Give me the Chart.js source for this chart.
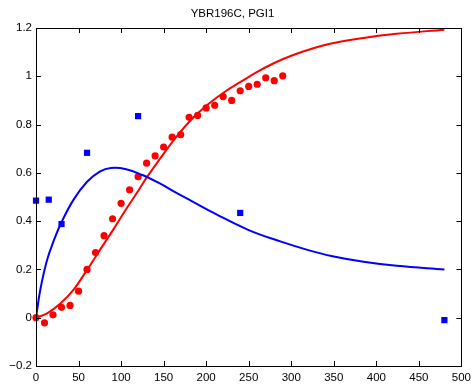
<!DOCTYPE html>
<html>
<head>
<meta charset="utf-8">
<script src="https://cdn.jsdelivr.net/npm/chart.js@4/dist/chart.umd.min.js"></script>
<style>
  html, body { margin: 0; padding: 0; background: #fff; }
  #wrap { width: 476px; height: 387px; }
</style>
</head>
<body>
<div id="wrap"><canvas id="grafico"></canvas></div>
<script>
// measured points
const redX = [0, 10, 20, 30, 40, 50, 60, 70, 80, 90, 100, 110, 120, 130, 140, 150, 160, 170, 180, 190, 200, 210, 220, 230, 240, 250, 260, 270, 280, 290];
const redY = [0, -0.021, 0.012, 0.043, 0.051, 0.11, 0.20, 0.27, 0.34, 0.41, 0.474, 0.53, 0.584, 0.64, 0.67, 0.707, 0.748, 0.758, 0.83, 0.838, 0.869, 0.88, 0.916, 0.90, 0.94, 0.958, 0.967, 0.994, 0.982, 1.002];
const blueX = [0, 15, 30, 60, 120, 240, 480];
const blueY = [0.485, 0.489, 0.388, 0.683, 0.835, 0.434, -0.01];

// fitted curves
const redFitX = [0, 13, 29, 44, 60, 75, 91, 106, 120, 129, 145, 164, 183, 203, 222, 242, 261, 280, 300, 325, 350, 385, 424, 480];
const redFitY = [0, 0.018, 0.06, 0.115, 0.198, 0.28, 0.366, 0.45, 0.525, 0.575, 0.655, 0.745, 0.822, 0.886, 0.936, 0.98, 1.02, 1.055, 1.085, 1.115, 1.138, 1.159, 1.176, 1.193];
const blueFitX = [0, 5, 13, 21, 29, 44, 60, 75, 88, 106, 125, 145, 164, 183, 211, 250, 288, 320, 347, 385, 424, 480];
const blueFitY = [0, 0.115, 0.239, 0.32, 0.388, 0.488, 0.563, 0.605, 0.62, 0.615, 0.591, 0.557, 0.519, 0.483, 0.43, 0.363, 0.315, 0.28, 0.256, 0.232, 0.215, 0.2];

const xTicks = [0, 50, 100, 150, 200, 250, 300, 350, 400, 450, 500];
const yTicks = [-0.2, 0, 0.2, 0.4, 0.6, 0.8, 1, 1.2];
const titulo = 'YBR196C, PGI1';

const pares = (xs, ys) => xs.map((x, i) => ({ x: x, y: ys[i] }));
const fonte = { family: "'Liberation Sans', Arial, sans-serif", size: 11.5 };

// caixa e marcas internas estilo matlab
const caixa = {
    id: 'caixa',
    afterDraw(chart) {
        const { ctx, chartArea: a, scales } = chart;
        ctx.save();
        ctx.strokeStyle = '#000';
        ctx.lineWidth = 1;
        ctx.beginPath();
        xTicks.forEach(v => {
            const px = Math.round(scales.x.getPixelForValue(v)) + 0.5;
            ctx.moveTo(px, a.bottom); ctx.lineTo(px, a.bottom - 5);
            ctx.moveTo(px, a.top); ctx.lineTo(px, a.top + 5);
        });
        yTicks.forEach(v => {
            const py = Math.round(scales.y.getPixelForValue(v)) + 0.5;
            ctx.moveTo(a.left, py); ctx.lineTo(a.left + 5, py);
            ctx.moveTo(a.right, py); ctx.lineTo(a.right - 5, py);
        });
        ctx.stroke();
        ctx.strokeRect(Math.round(a.left) + 0.5, Math.round(a.top) + 0.5, Math.round(a.right - a.left), Math.round(a.bottom - a.top));
        ctx.restore();
    }
};

new Chart(document.getElementById('grafico'), {
    type: 'scatter',
    data: {
        datasets: [
            { data: pares(redFitX, redFitY), showLine: true, borderColor: '#ff0000', borderWidth: 2, pointRadius: 0, tension: 0.4, order: 1 },
            { data: pares(blueFitX, blueFitY), showLine: true, borderColor: '#0000ff', borderWidth: 2, pointRadius: 0, tension: 0.4, order: 0 },
            { data: pares(redX, redY), pointStyle: 'circle', pointRadius: 3.6, backgroundColor: '#ff0000', borderWidth: 0, clip: false, order: 2 },
            { data: pares(blueX, blueY), pointStyle: 'rect', pointRadius: 4.4, backgroundColor: '#0000ff', borderWidth: 0, clip: false, order: 3 }
        ]
    },
    options: {
        responsive: true,
        maintainAspectRatio: false,
        animation: false,
        layout: { padding: { left: 0, right: 11, top: 0, bottom: 0 } },
        plugins: {
            legend: { display: false },
            tooltip: { enabled: false },
            title: {
                display: true,
                text: titulo,
                color: '#000',
                font: { family: fonte.family, size: 11.5, weight: 'normal', lineHeight: 1.2 },
                padding: { top: 7, bottom: 7.2 }
            }
        },
        scales: {
            x: {
                type: 'linear',
                min: 0, max: 500,
                grid: { display: false, drawTicks: false },
                border: { display: false },
                afterBuildTicks: s => { s.ticks = xTicks.map(v => ({ value: v })); },
                afterFit: s => { s.height = 21; },
                ticks: { color: '#000', font: fonte, padding: 5, maxRotation: 0, callback: v => String(v) }
            },
            y: {
                type: 'linear',
                min: -0.2, max: 1.2,
                grid: { display: false, drawTicks: false },
                border: { display: false },
                afterBuildTicks: s => { s.ticks = yTicks.map(v => ({ value: v })); },
                afterFit: s => { s.width = 36; },
                ticks: {
                    color: '#000', font: fonte, padding: 4,
                    callback: v => String(Math.round(v * 10) / 10).replace('-', '\u2212')
                }
            }
        }
    },
    plugins: [caixa]
});
</script>
</body>
</html>
